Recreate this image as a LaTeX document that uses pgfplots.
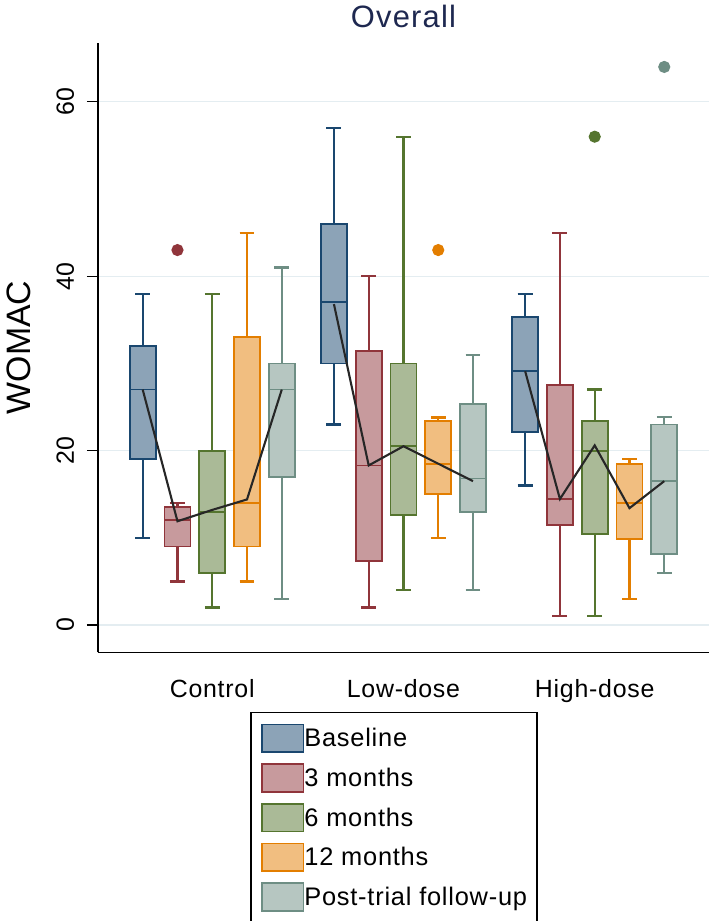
\documentclass[border=0pt]{standalone}
\usepackage{fontspec}
\setmainfont{Liberation Sans}
\newfontfamily\lsfont{Liberation Sans}[LetterSpace=3]
\newfontfamily\ttlfont{Liberation Sans}[LetterSpace=4]
\usepackage{pgfplots}
\pgfplotsset{compat=1.18}
\usepgfplotslibrary{statistics}
\definecolor{c1}{RGB}{26,71,111}
\definecolor{c2}{RGB}{144,53,59}
\definecolor{c3}{RGB}{85,117,47}
\definecolor{c4}{RGB}{227,126,0}
\definecolor{c5}{RGB}{110,142,132}
\definecolor{ttl}{RGB}{30,40,80}
\definecolor{grd}{RGB}{228,237,241}
\pgfplotsset{
  s1/.style={draw=c1, fill=c1!50!white, line width=1.7bp, mark=*, mark size=5.2bp, mark options={draw=c1, fill=c1, solid}, forget plot, boxplot/every whisker/.style={draw=c1, line width=2.2bp}},
  s2/.style={draw=c2, fill=c2!50!white, line width=1.7bp, mark=*, mark size=5.2bp, mark options={draw=c2, fill=c2, solid}, forget plot, boxplot/every whisker/.style={draw=c2, line width=2.2bp}},
  s3/.style={draw=c3, fill=c3!50!white, line width=1.7bp, mark=*, mark size=5.2bp, mark options={draw=c3, fill=c3, solid}, forget plot, boxplot/every whisker/.style={draw=c3, line width=2.2bp}},
  s4/.style={draw=c4, fill=c4!50!white, line width=1.7bp, mark=*, mark size=5.2bp, mark options={draw=c4, fill=c4, solid}, forget plot, boxplot/every whisker/.style={draw=c4, line width=2.2bp}},
  s5/.style={draw=c5, fill=c5!50!white, line width=1.7bp, mark=*, mark size=5.2bp, mark options={draw=c5, fill=c5, solid}, forget plot, boxplot/every whisker/.style={draw=c5, line width=2.2bp}},
  limg/.style={legend image code/.code={\draw (0bp,-13.8bp) rectangle (41.7bp,13.8bp);}},
}
\begin{document}
\begin{tikzpicture}
\begin{axis}[
  at={(0,0)}, anchor=south west,
  scale only axis, width=611bp, height=609.6bp,
  xmin=-1.2856, xmax=16.287, ymin=-3.13, ymax=66.78,
  axis x line*=bottom, axis y line*=left,
  axis line style={line width=1.3bp, black},
  xtick={2,7.5,13}, xticklabels={Control,Low-dose,High-dose},
  x tick style={draw=none},
  ytick={0,20,40,60},
  y tick style={line width=1.3bp, black},
  tick align=outside, major tick length=11bp,
  ymajorgrids, grid style={grd, line width=1.3bp},
  /pgf/number format/assume math mode=true,
  xticklabel style={font=\lsfont\fontsize{25}{25}\selectfont, anchor=base, yshift=-34bp},
  yticklabel style={font=\fontsize{25}{25}\selectfont, xshift=-13bp, rotate=90, anchor=base},
  title={Overall},
  title style={font=\ttlfont\fontsize{31}{31}\selectfont, text=ttl, at={(axis description cs:0.5,1)}, anchor=base, yshift=9bp},
  ylabel={WOMAC},
  every axis y label/.style={at={(axis description cs:-0.1293,0.5)}, rotate=90, anchor=center, font=\fontsize{34}{34}\selectfont},
  boxplot/draw direction=y,
  boxplot/box extend=0.75, boxplot/whisker extend=0.43,
  boxplot/every median/.append style={line width=1.8bp},
  boxplot/every box/.append style={line width=1.8bp},
  legend style={at={(axis description cs:0.4845,-0.0979)}, anchor=north, draw=black, line width=1.3bp,
    inner xsep=10bp, inner ysep=11bp, row sep=10.4bp, font=\lsfont\fontsize{25.5}{25.5}\selectfont,
    cells={anchor=west}, nodes={inner sep=0pt},
    /tikz/every even column/.append style={column sep=6bp}},
  legend cell align=left,
]
% Control
\addplot[s1, boxplot prepared={draw position=0, lower whisker=10, lower quartile=19, median=27, upper quartile=32, upper whisker=38}] coordinates {};
\addplot[s2, boxplot prepared={draw position=1, lower whisker=5, lower quartile=9, median=12, upper quartile=13.5, upper whisker=14}] table[row sep=\\, y index=0] {v\\ 43\\};
\addplot[s3, boxplot prepared={draw position=2, lower whisker=2, lower quartile=6, median=13, upper quartile=20, upper whisker=38}] coordinates {};
\addplot[s4, boxplot prepared={draw position=3, lower whisker=5, lower quartile=9, median=14, upper quartile=33, upper whisker=45}] coordinates {};
\addplot[s5, boxplot prepared={draw position=4, lower whisker=3, lower quartile=17, median=27, upper quartile=30, upper whisker=41}] coordinates {};
% Low-dose
\addplot[s1, boxplot prepared={draw position=5.5, lower whisker=23, lower quartile=30, median=37, upper quartile=46, upper whisker=57}] coordinates {};
\addplot[s2, boxplot prepared={draw position=6.5, lower whisker=2, lower quartile=7.3, median=18.3, upper quartile=31.4, upper whisker=40}] coordinates {};
\addplot[s3, boxplot prepared={draw position=7.5, lower whisker=4, lower quartile=12.6, median=20.5, upper quartile=30, upper whisker=56}] coordinates {};
\addplot[s4, boxplot prepared={draw position=8.5, lower whisker=10, lower quartile=15, median=18.5, upper quartile=23.4, upper whisker=23.8}] table[row sep=\\, y index=0] {v\\ 43\\};
\addplot[s5, boxplot prepared={draw position=9.5, lower whisker=4, lower quartile=13, median=16.8, upper quartile=25.3, upper whisker=31}] coordinates {};
% High-dose
\addplot[s1, boxplot prepared={draw position=11, lower whisker=16, lower quartile=22.1, median=29.1, upper quartile=35.3, upper whisker=38}] coordinates {};
\addplot[s2, boxplot prepared={draw position=12, lower whisker=1, lower quartile=11.5, median=14.45, upper quartile=27.5, upper whisker=45}] coordinates {};
\addplot[s3, boxplot prepared={draw position=13, lower whisker=1, lower quartile=10.45, median=20, upper quartile=23.4, upper whisker=27}] table[row sep=\\, y index=0] {v\\ 56\\};
\addplot[s4, boxplot prepared={draw position=14, lower whisker=3, lower quartile=9.9, median=13.95, upper quartile=18.5, upper whisker=19}] coordinates {};
\addplot[s5, boxplot prepared={draw position=15, lower whisker=6, lower quartile=8.1, median=16.5, upper quartile=23, upper whisker=23.9}] table[row sep=\\, y index=0] {v\\ 64\\};
% connecting lines
\addplot[black!85, line width=2.1bp, forget plot] coordinates {(0,27)(1,11.9)(2,13.2)(3,14.4)(4,27)};
\addplot[black!85, line width=2.1bp, forget plot] coordinates {(5.5,36.8)(6.5,18.3)(7.5,20.5)(8.5,18.5)(9.5,16.5)};
\addplot[black!85, line width=2.1bp, forget plot] coordinates {(11,29.1)(12,14.45)(13,20.6)(14,13.4)(15,16.5)};
% legend
\addlegendimage{limg, draw=c1, fill=c1!50!white, line width=1.7bp}
\addlegendentry{Baseline}
\addlegendimage{limg, draw=c2, fill=c2!50!white, line width=1.7bp}
\addlegendentry{3 months}
\addlegendimage{limg, draw=c3, fill=c3!50!white, line width=1.7bp}
\addlegendentry{6 months}
\addlegendimage{limg, draw=c4, fill=c4!50!white, line width=1.7bp}
\addlegendentry{12 months}
\addlegendimage{limg, draw=c5, fill=c5!50!white, line width=1.7bp}
\addlegendentry{Post-trial follow-up}
\end{axis}
\pgfresetboundingbox
\path[use as bounding box] (-98bp,-268.7bp) rectangle (611bp,652.3bp);
\end{tikzpicture}
\end{document}
